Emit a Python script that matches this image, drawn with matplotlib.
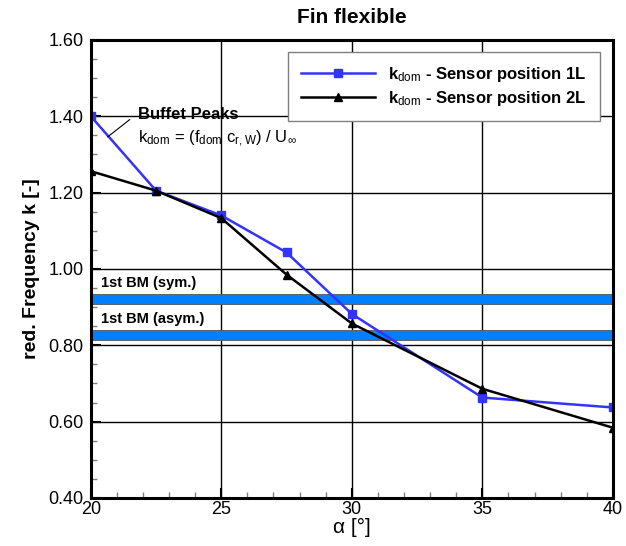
import matplotlib
matplotlib.use("Agg")
import matplotlib.pyplot as plt
from matplotlib.ticker import MultipleLocator

plt.rcParams['font.family'] = ['Liberation Sans', 'DejaVu Sans']
plt.rcParams['mathtext.fontset'] = 'custom'
plt.rcParams['mathtext.rm'] = 'Liberation Sans'
plt.rcParams['mathtext.it'] = 'Liberation Sans:italic'
plt.rcParams['mathtext.bf'] = 'Liberation Sans:bold'

# angle of attack and dominant reduced frequency per sensor
alpha = [20, 22.5, 25, 27.5, 30, 35, 40]
k_1L = [1.400, 1.205, 1.140, 1.043, 0.882, 0.663, 0.637]
k_2L = [1.256, 1.205, 1.133, 0.985, 0.857, 0.686, 0.584]

# first bending mode bands (lower, upper)
bm_sym = (0.907, 0.933)
bm_asym = (0.815, 0.839)

fig = plt.figure(figsize=(6.26, 5.46), dpi=100)
ax = fig.add_axes([0.145, 0.088, 0.834, 0.839])

ax.set_xlim(20, 40)
ax.set_ylim(0.4, 1.6)
ax.xaxis.set_major_locator(MultipleLocator(5))
ax.xaxis.set_minor_locator(MultipleLocator(1))
ax.yaxis.set_major_locator(MultipleLocator(0.2))
ax.yaxis.set_minor_locator(MultipleLocator(0.05))
ax.yaxis.set_major_formatter(plt.FormatStrFormatter('%.2f'))
ax.grid(True, which='major', color='black', lw=1.0, zorder=1)
ax.tick_params(which='major', direction='in', length=7, width=1.5, labelsize=13)
ax.tick_params(axis='y', pad=5)
ax.tick_params(axis='x', pad=2)
ax.tick_params(which='minor', direction='in', length=4, width=1.0, color='gray')
for s in ax.spines.values():
    s.set_linewidth(2.2)
    s.set_zorder(5)

for lo, hi in (bm_sym, bm_asym):
    ax.axhspan(lo, hi, facecolor='#0080ff', edgecolor='#555555', lw=0.6, zorder=2)
ax.text(20.4, 0.945, "1st BM (sym.)", fontsize=10.5, fontweight='bold', va='bottom', zorder=6)
ax.text(20.4, 0.85, "1st BM (asym.)", fontsize=10.5, fontweight='bold', va='bottom', zorder=6)

ax.plot(alpha, k_1L, color='#3333ff', lw=1.8, marker='s', ms=6, zorder=4,
        label=r"$\mathbf{k}_\mathrm{dom}$ - Sensor position 1L")
ax.plot(alpha, k_2L, color='black', lw=1.8, marker='^', ms=6, zorder=4,
        label=r"$\mathbf{k}_\mathrm{dom}$ - Sensor position 2L")

leg = ax.legend(loc='upper right', bbox_to_anchor=(0.975, 0.974),
                prop={'weight': 'bold', 'size': 12}, fancybox=False, framealpha=1,
                edgecolor='gray', handlelength=4.4, handletextpad=0.8,
                borderpad=0.8, labelspacing=0.3, borderaxespad=0)
leg.get_frame().set_linewidth(1.0)
leg.set_zorder(7)

# annotation for the buffet peaks
ax.plot([20.65, 21.49], [1.346, 1.391], color='black', lw=0.8, zorder=6)
ax.text(21.8, 1.405, "Buffet Peaks", fontsize=12, fontweight='bold', va='center', zorder=6)
ax.text(21.8, 1.340, r"k$_\mathrm{dom}$ = (f$_\mathrm{dom}$ c$_\mathrm{r,W}$) / U$_\infty$",
        fontsize=12, va='center', zorder=6)

ax.set_title("Fin flexible", fontsize=15, fontweight='bold', pad=12)
ax.set_xlabel("α [°]", fontsize=15, labelpad=0)
ax.set_ylabel("red. Frequency k [-]", fontsize=14, fontweight='bold', labelpad=6)

fig.savefig("out.png", dpi=100)
